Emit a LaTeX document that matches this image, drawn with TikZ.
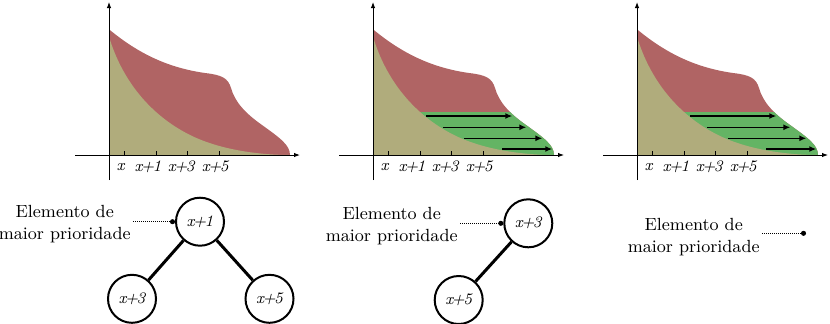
\documentclass[tikz,border=0pt]{standalone}
\usepackage{tikz}
\usepackage{xcolor}
\usetikzlibrary{arrows.meta}
\definecolor{prioRed}{RGB}{176,100,100}
\definecolor{prioOlive}{RGB}{176,172,124}
\definecolor{prioGreen}{RGB}{100,180,100}
\newcommand{\pl}{\kern-0.8pt+\kern-0.8pt}
\newcommand{\redpath}{(109,155) -- (109,29.3) .. controls (140,55) and (170,68) .. (205,73) .. controls (222,75) and (228,78) .. (231,88) .. controls (235,102) and (245,113) .. (262,125) .. controls (280,138) and (290,145) .. (290,155) -- cycle}
\newcommand{\olivepath}{(109,155) -- (109,36.7) .. controls (122,80) and (150,115) .. (190,135) .. controls (220,150) and (260,155) .. (290,155) -- cycle}

\begin{document}
\begin{tikzpicture}[x=0.5pt, y=-0.5pt,
    vert/.style={circle, draw, line width=1pt, minimum size=24pt, inner sep=0pt, font=\fontsize{8}{9}\selectfont\itshape},
    lbl/.style={align=center, anchor=east, inner sep=1pt, font=\fontsize{8.8}{11.25}\selectfont},
    ptr/.style={dash pattern=on 0.5pt off 0.5pt, line width=0.5pt, -{Circle[length=2.5pt]}},
    tk/.style={font=\fontsize{8}{9}\selectfont\itshape, inner sep=0pt},
    axis/.style={line width=0.5pt, -{Latex[length=3pt]}},
    push/.style={line width=0.7pt, -{Latex[length=3.5pt,width=3pt]}}]
        \useasboundingbox (0,0) rectangle (830,323);
        \foreach \s in {0,264,528}{
          \begin{scope}[shift={(\s,0)}]
            \fill[prioRed] \redpath;
            \ifnum\s>0
              \begin{scope}
                \clip (105,112.7) rectangle (300,156);
                \fill[prioGreen] \redpath;
              \end{scope}
            \fi
            \fill[prioOlive] \olivepath;
            \draw[axis] (75,155) -- (300,155);
            \draw[axis] (109,180) -- (109,2);
            \foreach \t/\l/\n [count=\k] in {124/120.7/x, 156/148/x\pl1, 187.7/181.3/x\pl3, 219.3/215.3/x\pl5}{
              \draw[line width=0.5pt] (\t,155) -- (\t,151);
              \node[tk] (tk\s-\k) at (\l,167) {\n};
            }
            \ifnum\s>0
              \foreach \a/\b/\y in {162.3/248.3/116, 179/262.3/127.3, 200/278.3/138.3, 238.3/288.3/149}
                \draw[push] (\a,\y) -- (\b,\y);
            \fi
          \end{scope}
        }
        \node[vert] (a1) at (200,221.7) {x\pl1};
        \node[vert] (b1) at (132,298.8) {x\pl3};
        \node[vert] (c1) at (269.5,298.8) {x\pl5};
        \node[vert] (a2) at (528.3,223.3) {x\pl3};
        \node[vert] (b2) at (458.7,300) {x\pl5};
        \foreach \u/\v in {a1/b1,a1/c1,a2/b2}
          \draw[line width=1.5pt] (\u) -- (\v);
        \node[lbl] (e1) at (133,224) {Elemento de\\maior prioridade};
        \node[lbl] (e2) at (460,226) {Elemento de\\maior prioridade};
        \node[lbl] (e3) at (762,237) {Elemento de\\maior prioridade};
        \coordinate (q3) at (806,233.3);
        \draw[ptr] (e1.east |- a1.west) -- (a1.west);
        \draw[ptr] (e2.east |- a2.west) -- (a2.west);
        \draw[ptr] (e3.east |- q3) -- (q3);
      \end{tikzpicture}
\end{document}
